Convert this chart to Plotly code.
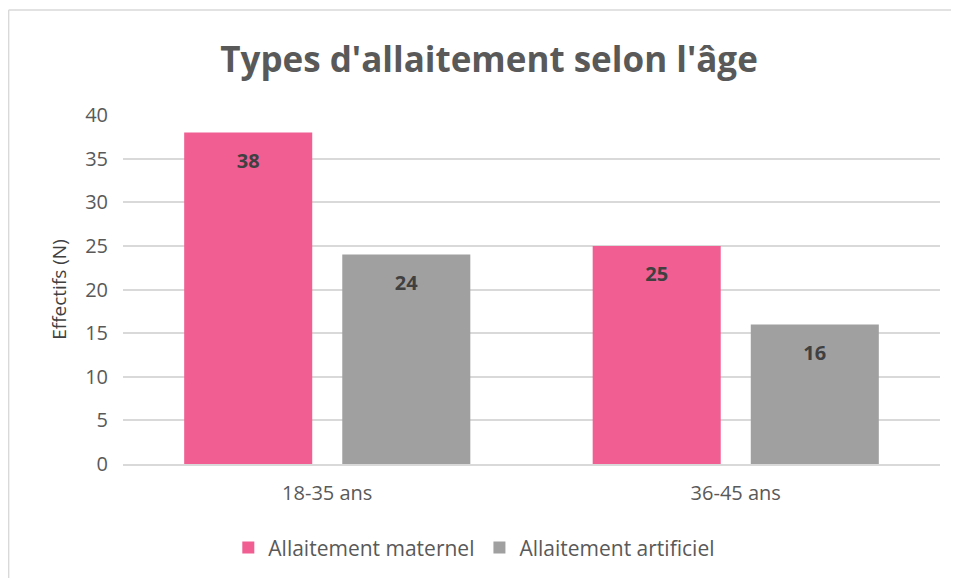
import plotly.graph_objects as go

# Data
groupes = ["18-35 ans", "36-45 ans"]
maternel = [38, 25]
artificiel = [24, 16]

series = [
    ("Allaitement maternel", maternel, "#F05E92", "a"),
    ("Allaitement artificiel", artificiel, "#A0A0A0", "b"),
]

fig = go.Figure()
for nom, vals, couleur, grp in series:
    fig.add_trace(go.Bar(name=nom, x=groupes, y=vals, offsetgroup=grp,
                         marker=dict(color=couleur, line=dict(width=0))))
# value labels, hung just under the top of each bar
for nom, vals, couleur, grp in series:
    fig.add_trace(go.Scatter(
        x=groupes, y=vals, offsetgroup=grp, mode="markers+text",
        text=[str(v) for v in vals], textposition="bottom center",
        marker=dict(size=31, opacity=0), showlegend=False, hoverinfo="skip",
        textfont=dict(family="Open Sans", size=20, color="#404040", weight="bold"),
    ))

fig.update_layout(
    width=959, height=578,
    margin=dict(l=115, r=27, t=107, b=122),
    paper_bgcolor="white", plot_bgcolor="white",
    font=dict(family="Open Sans", color="#595959"),
    title=dict(text="<b>Types d'allaitement selon l'âge</b>", x=0.5016, xanchor="center",
               y=0.91, yanchor="middle", font=dict(size=35, color="#595959")),
    barmode="group", bargap=0.226, bargroupgap=0.19,
    scattermode="group", scattergap=0.226,
    showlegend=True,
    legend=dict(orientation="h", x=0.43, xanchor="center", y=-0.24, yanchor="middle",
                font=dict(size=21, color="#595959"), traceorder="normal"),
    shapes=[dict(type="line", xref="paper", yref="paper", x0=-0.140, x1=-0.140, y0=-0.4, y1=1.301,
                 line=dict(color="#D9D9D9", width=1.5)),
            dict(type="line", xref="paper", yref="paper", x0=-0.140, x1=1.1, y0=1.301, y1=1.301,
                 line=dict(color="#D9D9D9", width=1.5))],
)
fig.update_yaxes(range=[0, 40], dtick=5, gridcolor="#D9D9D9", gridwidth=1.5,
                 zeroline=False, showline=False, ticks="", ticklabelstandoff=14,
                 tickfont=dict(size=20, color="#595959"),
                 title=dict(text="Effectifs (N)", font=dict(size=19, color="#404040"), standoff=13))
fig.update_xaxes(showline=True, linecolor="#D9D9D9", linewidth=2, ticklabelstandoff=10,
                 tickfont=dict(size=20, color="#595959"), ticks="")

fig.write_html("out.html")
